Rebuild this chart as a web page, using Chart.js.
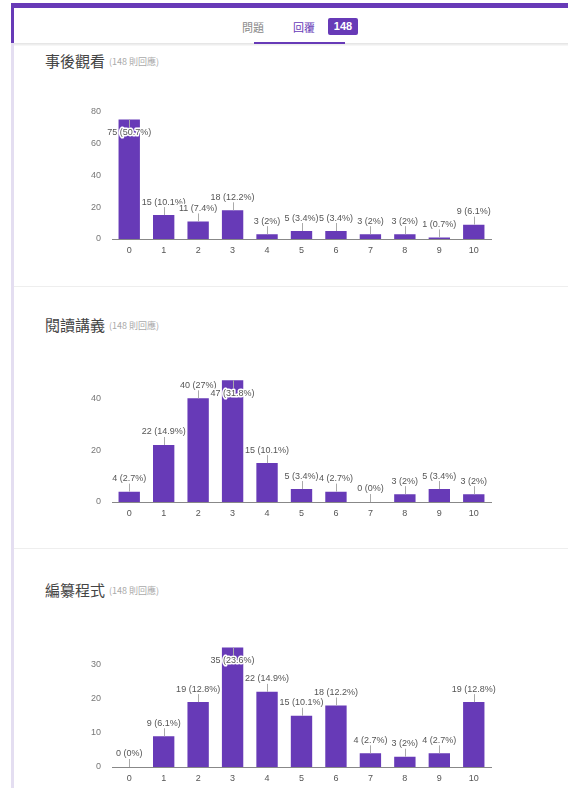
<!DOCTYPE html>
<html lang="zh-Hant">
<head>
<meta charset="utf-8">
<script src="https://cdn.jsdelivr.net/npm/chart.js@4/dist/chart.umd.min.js"></script>
<style>
    body {
        margin: 0;
        width: 568px;
        height: 788px;
        overflow: hidden;
        background: #fff;
        position: relative;
        font-family: 'Liberation Sans', Arial, sans-serif;
    }
    .abs { position: absolute; }
    .cjk { font-family: 'Noto Sans CJK TC', 'Noto Sans CJK SC', sans-serif; }
    #topbar { left: 11px; top: 3px; width: 557px; height: 5px; background: #673ab7; }
    #leftbar { left: 11px; top: 3px; width: 3px; height: 40px; background: #673ab7; }
    #leftstrip { left: 11px; top: 43px; width: 3px; height: 745px; background: #e4def1; }
    #headshadow { left: 14px; top: 43px; width: 554px; height: 3px; background: linear-gradient(#e2e2e2, #fafafa); }
    #tab-q { left: 242px; top: 19px; font-size: 11px; color: #888; line-height: 16px; }
    #tab-r { left: 293px; top: 19px; font-size: 11px; color: #673ab7; line-height: 16px; }
    #badge { left: 328px; top: 18px; width: 30px; height: 17px; background: #673ab7; border-radius: 2px;
             color: #fff; font-size: 11px; font-weight: bold; line-height: 17px; text-align: center; }
    #underline { left: 254px; top: 42px; width: 91px; height: 2px; background: #673ab7; }
    .sep { left: 14px; width: 554px; height: 1px; background: #eeeeee; }
    .title { left: 45px; font-size: 15px; color: #444; line-height: 20px; white-space: nowrap; }
    .title span { font-size: 9px; color: #aaa; margin-left: 4px; vertical-align: 2px; }
    .box { left: 62px; width: 440px; }
</style>
</head>
<body>
<div class="abs" id="topbar"></div>
<div class="abs" id="leftbar"></div>
<div class="abs" id="leftstrip"></div>
<div class="abs" id="headshadow"></div>
<div class="abs cjk" id="tab-q">問題</div>
<div class="abs cjk" id="tab-r">回覆</div>
<div class="abs" id="badge">148</div>
<div class="abs" id="underline"></div>
<div class="abs sep" style="top:286px"></div>
<div class="abs sep" style="top:548px"></div>

<div class="abs title cjk" style="top:51px">事後觀看<span>(148 則回應)</span></div>
<div class="abs box" style="top:95px;height:164px"><canvas id="chart-after"></canvas></div>

<div class="abs title cjk" style="top:315px">閱讀講義<span>(148 則回應)</span></div>
<div class="abs box" style="top:356px;height:166px"><canvas id="chart-read"></canvas></div>

<div class="abs title cjk" style="top:580px">編纂程式<span>(148 則回應)</span></div>
<div class="abs box" style="top:614px;height:173px"><canvas id="chart-code"></canvas></div>

<script>
    const categories = ['0', '1', '2', '3', '4', '5', '6', '7', '8', '9', '10'];
    const afterValues = [75, 15, 11, 18, 3, 5, 5, 3, 3, 1, 9];
    const readValues = [4, 22, 40, 47, 15, 5, 4, 0, 3, 5, 3];
    const codeValues = [0, 9, 19, 35, 22, 15, 18, 4, 3, 4, 19];
    const afterTicks = [0, 20, 40, 60, 80];
    const readTicks = [0, 20, 40];
    const codeTicks = [0, 10, 20, 30];
    const totalResponses = 148;

    const purple = '#673ab7';

    Chart.defaults.font.family = "'Liberation Sans', Arial, sans-serif";

    // Google-style annotation: short stem + "n (p%)" text above the bar (inside if no room)
    const barLabels = {
        id: 'barLabels',
        afterDatasetsDraw(chart) {
            const { ctx, chartArea } = chart;
            const values = chart.data.datasets[0].data;
            ctx.save();
            ctx.font = "9px 'Liberation Sans', Arial, sans-serif";
            ctx.textAlign = 'center';
            ctx.textBaseline = 'middle';
            chart.getDatasetMeta(0).data.forEach((bar, i) => {
                const v = values[i];
                const text = v + ' (' + +(v / totalResponses * 100).toFixed(1) + '%)';
                const dir = bar.y - chartArea.top < 20 ? 1 : -1;
                const sx = Math.round(bar.x) + 0.5;
                ctx.strokeStyle = '#aaa';
                ctx.lineWidth = 1;
                ctx.beginPath();
                ctx.moveTo(sx, bar.y);
                ctx.lineTo(sx, bar.y + dir * 8);
                ctx.stroke();
                ctx.lineWidth = 3;
                ctx.lineJoin = 'round';
                ctx.strokeStyle = '#fff';
                ctx.strokeText(text, bar.x, bar.y + dir * 13);
                ctx.fillStyle = '#555';
                ctx.fillText(text, bar.x, bar.y + dir * 13);
            });
            ctx.restore();
        },
    };

    function drawChart(id, values, ticks, max) {
        new Chart(document.getElementById(id), {
            type: 'bar',
            data: {
                labels: categories,
                datasets: [{
                    data: values,
                    backgroundColor: purple,
                    barPercentage: 0.62,
                    categoryPercentage: 1,
                }],
            },
            options: {
                responsive: true,
                maintainAspectRatio: false,
                animation: false,
                layout: { padding: { top: 12, right: 11 } },
                plugins: {
                    legend: { display: false },
                    tooltip: { enabled: false },
                },
                scales: {
                    x: {
                        grid: { display: false, drawTicks: false },
                        border: { display: true, color: '#888' },
                        ticks: { color: '#555', padding: 6, font: { size: 9 } },
                        afterFit: (s) => { s.height = 20; },
                    },
                    y: {
                        min: 0,
                        max: max,
                        grid: { display: false, drawTicks: false },
                        border: { display: false },
                        ticks: { color: '#777', padding: 11, font: { size: 9 } },
                        afterBuildTicks: (s) => { s.ticks = ticks.map((v) => ({ value: v })); },
                        afterFit: (s) => { s.width = 50; },
                    },
                },
            },
            plugins: [barLabels],
        });
    }

    drawChart('chart-after', afterValues, afterTicks, 80);
    drawChart('chart-read', readValues, readTicks, 50);
    drawChart('chart-code', codeValues, codeTicks, 40);
</script>
</body>
</html>
